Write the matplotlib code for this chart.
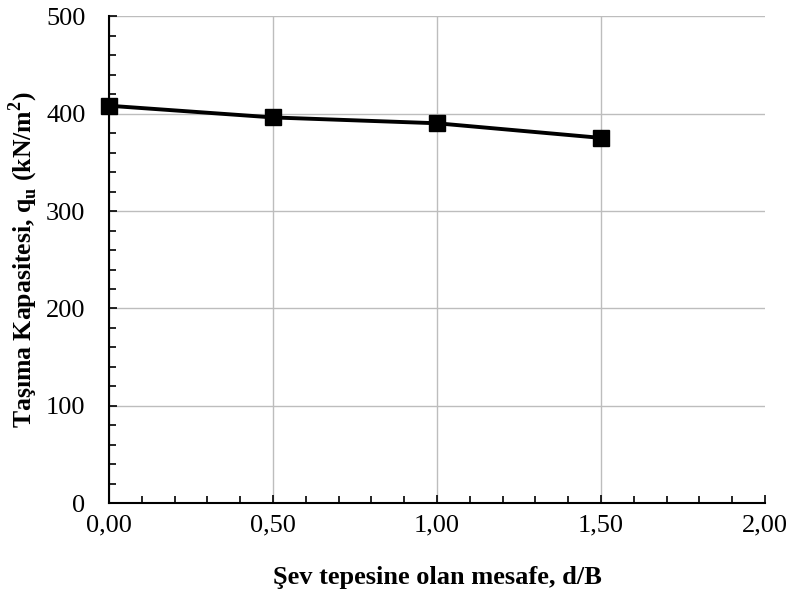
import matplotlib
matplotlib.use("Agg")
import matplotlib.pyplot as plt
from matplotlib.ticker import MultipleLocator, FuncFormatter

# d/B ratios and measured bearing capacity
d_over_b = [0.0, 0.5, 1.0, 1.5]
qu_values = [408, 396, 390, 375]

x_major = [0.0, 0.5, 1.0, 1.5, 2.0]
y_major = [0, 100, 200, 300, 400, 500]

plt.rcParams["font.family"] = ["Liberation Serif", "DejaVu Serif"]
plt.rcParams["mathtext.fontset"] = "custom"
plt.rcParams["mathtext.rm"] = "Liberation Serif"
plt.rcParams["mathtext.bf"] = "Liberation Serif:bold"

fig = plt.figure(figsize=(7.91, 5.94), dpi=100)
ax = fig.add_axes([0.1378, 0.1524, 0.8293, 0.8206])

ax.plot(d_over_b, qu_values, color="black", lw=2.8, marker="s", ms=11,
        zorder=5, clip_on=False)

ax.set_xlim(0, 2.0)
ax.set_ylim(0, 500)
ax.set_xticks(x_major)
ax.set_yticks(y_major)
ax.xaxis.set_minor_locator(MultipleLocator(0.1))
ax.yaxis.set_minor_locator(MultipleLocator(20))
ax.xaxis.set_major_formatter(FuncFormatter(lambda v, p: f"{v:.2f}".replace(".", ",")))

ax.grid(True, which="major", color="#bdbdbd", lw=1.0, zorder=0)
ax.set_axisbelow(True)
# no vertical grid line at the right border
ax.get_xgridlines()[-1].set_visible(False)

for s in ("top", "right"):
    ax.spines[s].set_visible(False)
for s in ("left", "bottom"):
    ax.spines[s].set_linewidth(1.5)
    ax.spines[s].set_color("black")

ax.tick_params(which="both", direction="in", width=1.2, colors="black")
ax.tick_params(which="major", length=6, labelsize=19)
ax.tick_params(which="minor", length=5)
ax.tick_params(axis="y", which="major", pad=17)
ax.tick_params(axis="x", which="major", pad=8)

ax.set_xlabel("Şev tepesine olan mesafe, d/B", fontsize=19, fontweight="bold", labelpad=21)
ax.set_ylabel(r"Taşıma Kapasitesi, q$_\mathbf{u}$ (kN/m$^\mathbf{2}$)",
              fontsize=18.5, fontweight="bold", labelpad=4)

fig.savefig("out.png", dpi=100)
